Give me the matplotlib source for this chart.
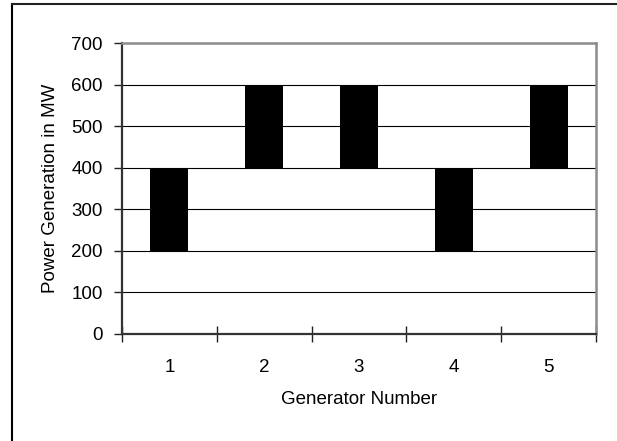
import matplotlib.pyplot as plt
from matplotlib.lines import Line2D

# Generator dispatch ranges (MW)
generators = ["1", "2", "3", "4", "5"]
low_mw = [200, 400, 400, 200, 400]
high_mw = [400, 600, 600, 400, 600]
y_ticks = [0, 100, 200, 300, 400, 500, 600, 700]

plt.rcParams["font.family"] = ["Liberation Sans", "DejaVu Sans"]

fig = plt.figure(figsize=(6.17, 4.41), dpi=100)
ax = fig.add_axes([122 / 617, 1 - 334 / 441, 474 / 617, 291 / 441])

pos = list(range(len(generators)))
heights = [h - l for l, h in zip(low_mw, high_mw)]
ax.bar(pos, heights, bottom=low_mw, width=0.4, color="black", zorder=3)

ax.set_xlim(-0.5, len(generators) - 0.5)
ax.set_ylim(0, 700)
ax.set_yticks(y_ticks)
ax.set_xticks(pos)
ax.set_xticklabels(generators)
ax.set_xticks([p - 0.5 for p in pos] + [pos[-1] + 0.5], minor=True)

for y in y_ticks[1:-1]:
    ax.axhline(y, color="black", lw=0.8, zorder=1)

ax.tick_params(axis="y", direction="out", length=6, width=1, pad=8,
               labelsize=13.5, color="#222222")
ax.tick_params(axis="x", which="major", length=0, pad=18, labelsize=13.5)
ax.tick_params(axis="x", which="minor", direction="inout", length=11, width=1,
               color="#222222")

for side in ["left", "bottom"]:
    ax.spines[side].set_color("#333333")
    ax.spines[side].set_linewidth(1.6)
for side in ["top", "right"]:
    ax.spines[side].set_color("#8c8c8c")
    ax.spines[side].set_linewidth(1.8)

ax.set_ylabel("Power Generation in MW", fontsize=13.5, labelpad=9)
ax.set_xlabel("Generator Number", fontsize=13.5, labelpad=11)

# outer chart border (top, left)
fig.add_artist(Line2D([12 / 617, 12 / 617], [0, 1 - 4 / 441], color="black", lw=1.5))
fig.add_artist(Line2D([12 / 617, 1], [1 - 4 / 441, 1 - 4 / 441], color="#222222", lw=1.5))

fig.savefig("out.png", dpi=100)
